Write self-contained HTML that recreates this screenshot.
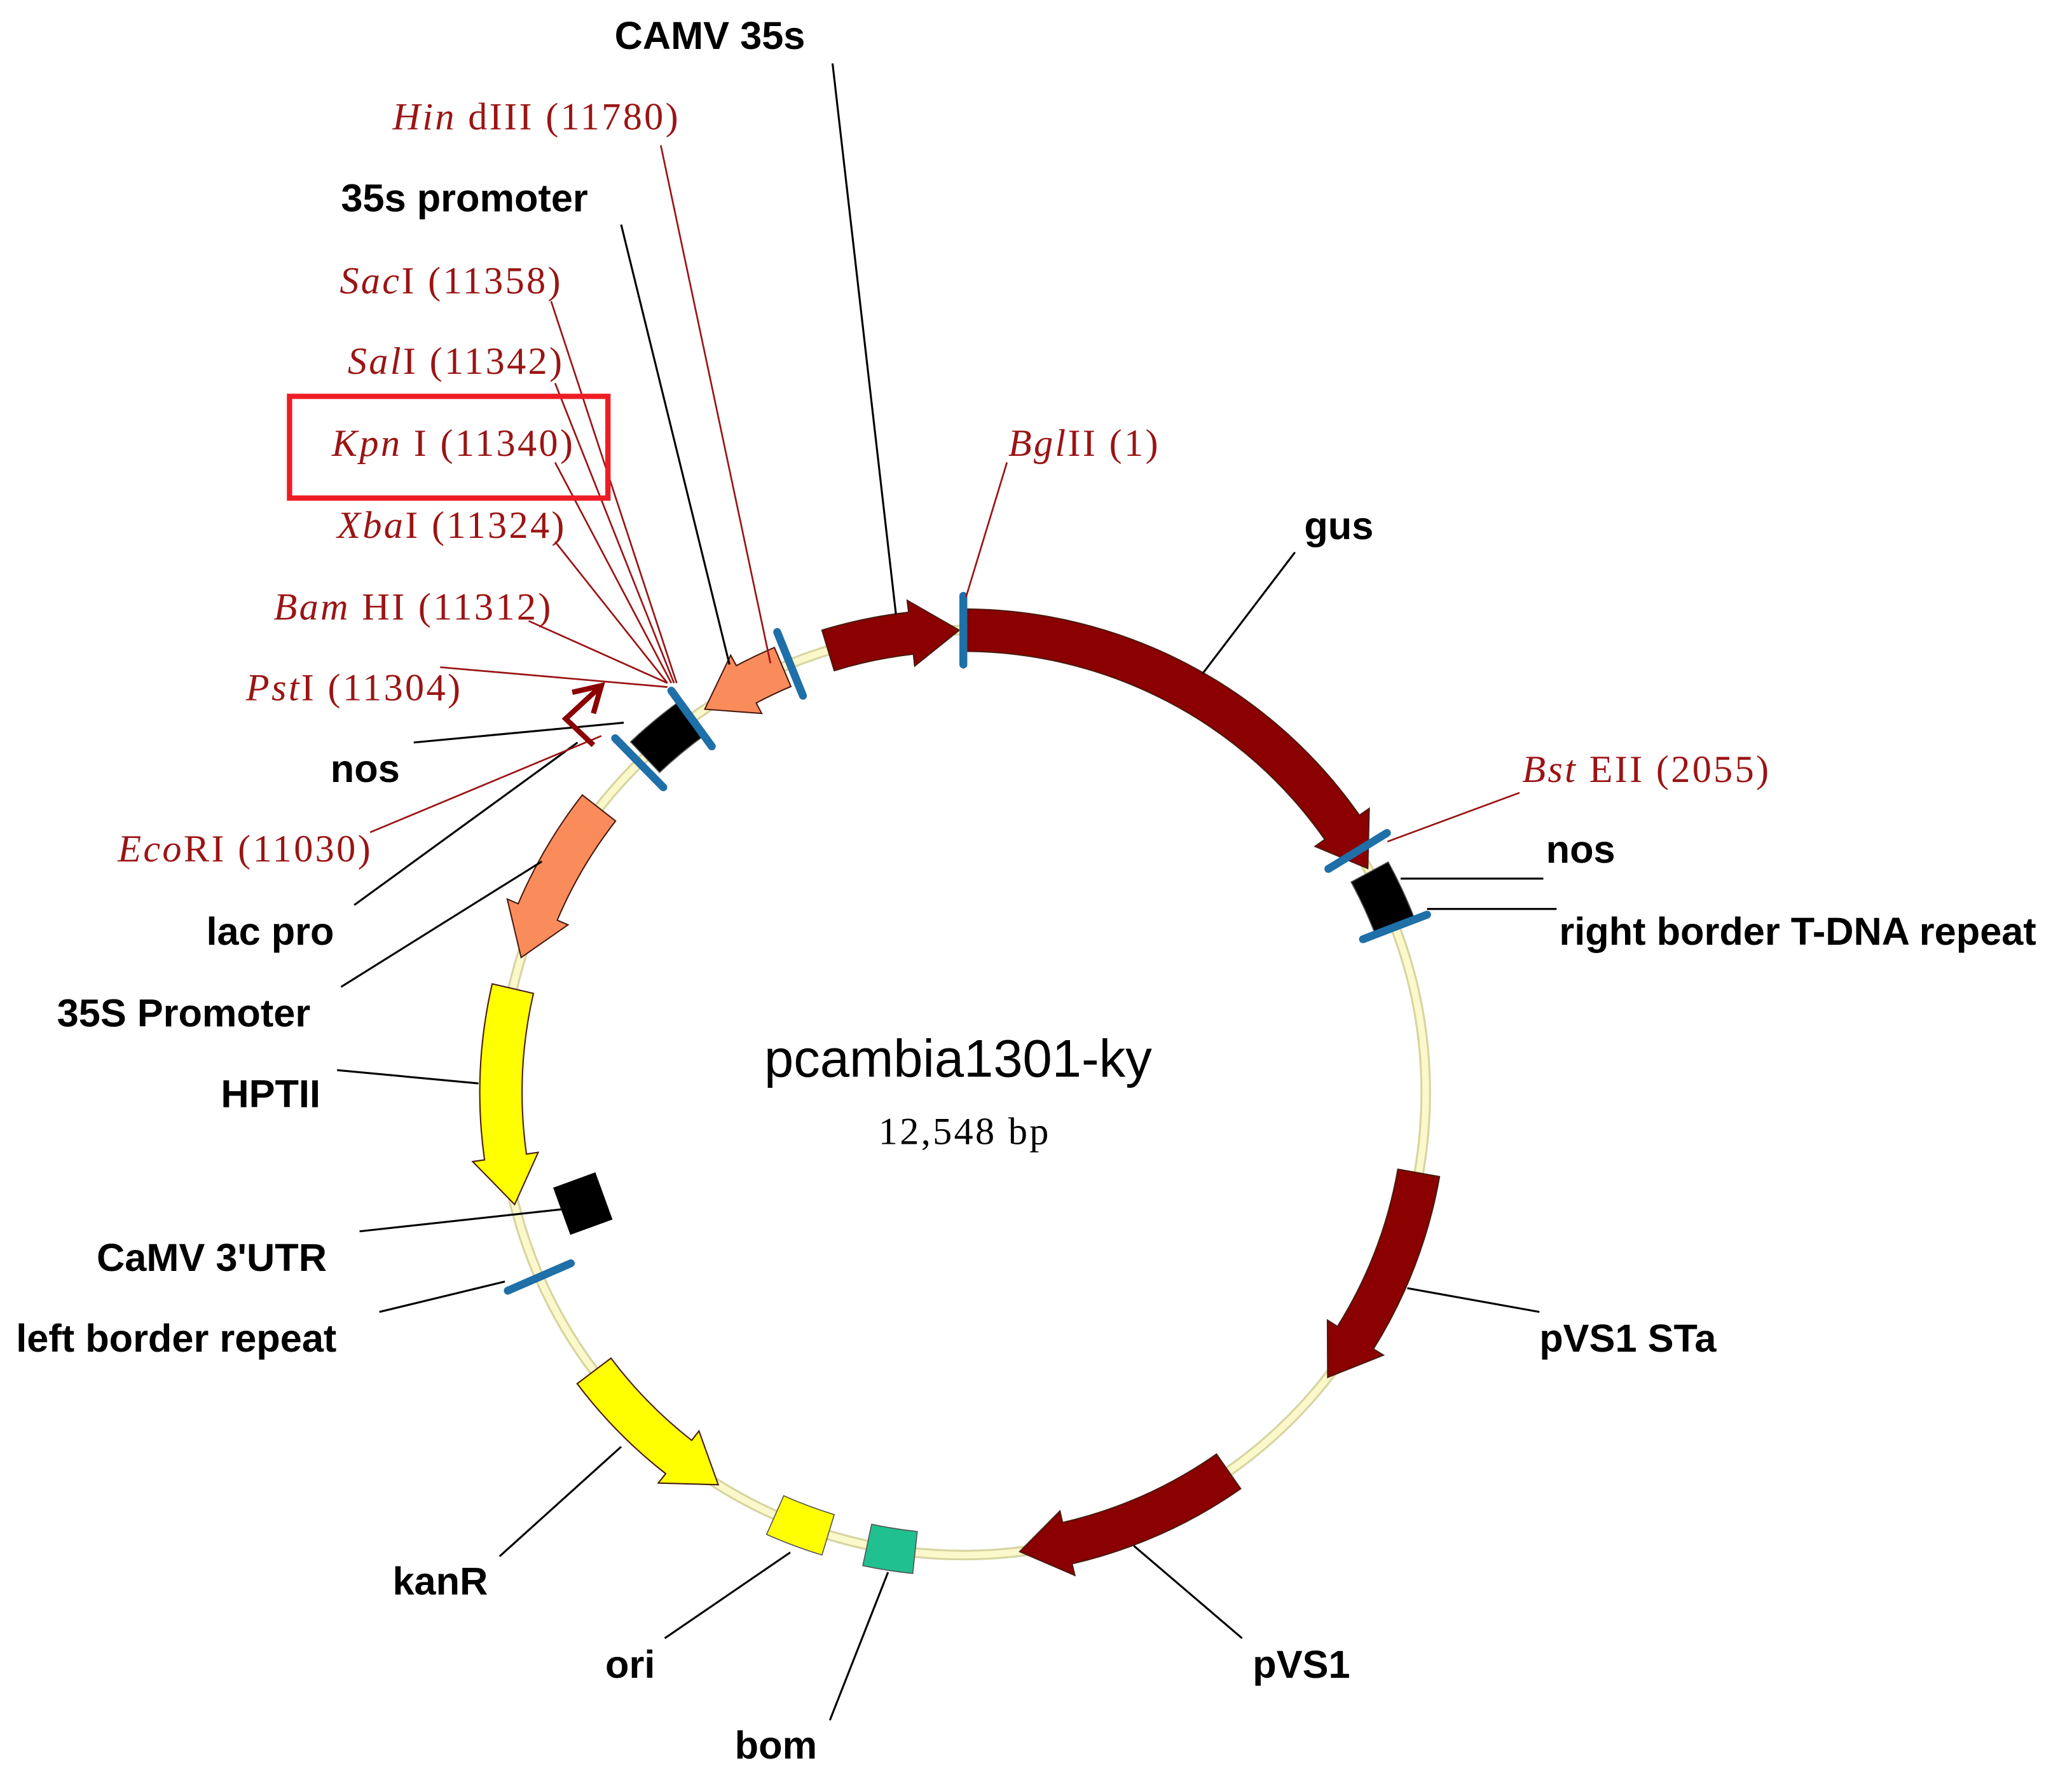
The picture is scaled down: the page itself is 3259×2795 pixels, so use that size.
<!DOCTYPE html>
<html><head><meta charset="utf-8"><style>
html,body{margin:0;padding:0;background:#fff;}
svg{display:block;}
.b{font-family:"Liberation Sans",Arial,sans-serif;font-size:29.5px;font-weight:bold;fill:#000;}
.r{font-family:"Liberation Serif",serif;font-size:29px;letter-spacing:1.6px;fill:#9b1414;}
.r tspan.i{font-style:italic;}
</style></head><body>
<svg id="s" width="3259" height="2795" viewBox="0 0 1568 1345" xmlns="http://www.w3.org/2000/svg">
<rect width="1568" height="1345" fill="#fff"/>
<circle cx="729" cy="827" r="350" fill="none" stroke="#d8d4a0" stroke-width="8"/>
<circle cx="729" cy="827" r="350" fill="none" stroke="#fbf8cc" stroke-width="5"/>
<g id="feat"></g>
<rect x="424" y="892" width="34" height="38" fill="#000" transform="rotate(-20 441 911)"/>
<g stroke="#000" stroke-width="1.5" fill="none">
<line x1="630" y1="48" x2="678" y2="465"/>
<line x1="470" y1="170" x2="552" y2="503"/>
<line x1="313" y1="562" x2="472" y2="547"/>
<line x1="268" y1="685" x2="437" y2="562"/>
<line x1="258" y1="747" x2="410" y2="652"/>
<line x1="255" y1="810" x2="362" y2="820"/>
<line x1="272" y1="932" x2="428" y2="915"/>
<line x1="287" y1="993" x2="382" y2="970"/>
<line x1="378" y1="1178" x2="470" y2="1095"/>
<line x1="503" y1="1240" x2="598" y2="1175"/>
<line x1="628" y1="1302" x2="672" y2="1190"/>
<line x1="940" y1="1240" x2="858" y2="1170"/>
<line x1="1165" y1="993" x2="1065" y2="975"/>
<line x1="1178" y1="688" x2="1080" y2="688"/>
<line x1="1168" y1="665" x2="1060" y2="665"/>
<line x1="980" y1="418" x2="910" y2="510"/>
</g>
<g stroke="#9b1414" stroke-width="1.3" fill="none">
<line x1="500" y1="110" x2="583" y2="502"/>
<line x1="417" y1="228" x2="512" y2="517"/>
<line x1="420" y1="290" x2="510" y2="517"/>
<line x1="420" y1="350" x2="508" y2="517"/>
<line x1="420" y1="410" x2="505" y2="517"/>
<line x1="400" y1="470" x2="505" y2="517"/>
<line x1="333" y1="505" x2="505" y2="520"/>
<line x1="280" y1="630" x2="455" y2="557"/>
<line x1="1150" y1="600" x2="1050" y2="637"/>
<line x1="762" y1="350" x2="731" y2="452"/>
</g>
<g stroke="#8b0000" stroke-width="4" fill="none">
<polyline points="449,564 428,544 455,519"/>
<polyline points="433,524 455,519 449,540"/>
</g>
<rect x="219" y="300" width="241" height="77" fill="none" stroke="#ee1c24" stroke-width="4"/>
<text class="b" x="465" y="37">CAMV 35s</text>
<text class="r" x="297" y="98"><tspan class="i">Hin</tspan> dIII (11780)</text>
<text class="b" x="258" y="160">35s promoter</text>
<text class="r" x="257" y="222"><tspan class="i">Sac</tspan>I (11358)</text>
<text class="r" x="263" y="283"><tspan class="i">Sal</tspan>I (11342)</text>
<text class="r" x="251" y="345"><tspan class="i">Kpn</tspan> I (11340)</text>
<text class="r" x="255" y="407"><tspan class="i">Xba</tspan>I (11324)</text>
<text class="r" x="207" y="469"><tspan class="i">Bam</tspan> HI (11312)</text>
<text class="r" x="186" y="530"><tspan class="i">Pst</tspan>I (11304)</text>
<text class="b" x="250" y="592">nos</text>
<text class="r" x="89" y="652"><tspan class="i">Eco</tspan>RI (11030)</text>
<text class="b" x="156" y="715">lac pro</text>
<text class="b" x="43" y="777">35S Promoter</text>
<text class="b" x="167" y="838">HPTII</text>
<text class="b" x="73" y="962">CaMV 3'UTR</text>
<text class="b" x="12" y="1023">left border repeat</text>
<text class="b" x="297" y="1207">kanR</text>
<text class="b" x="458" y="1270">ori</text>
<text class="b" x="556" y="1331">bom</text>
<text class="b" x="948" y="1270">pVS1</text>
<text class="b" x="1165" y="1023">pVS1 STa</text>
<text class="b" x="1180" y="715">right border T-DNA repeat</text>
<text class="b" x="1170" y="653">nos</text>
<text class="r" x="1152" y="592"><tspan class="i">Bst</tspan> EII (2055)</text>
<text class="b" x="987" y="408">gus</text>
<text class="r" x="763" y="345"><tspan class="i">Bgl</tspan>II (1)</text>
<text x="725" y="815" text-anchor="middle" style="font-family:'Liberation Sans',sans-serif;font-size:40px">pcambia1301-ky</text>
<text class="r" x="730" y="866" text-anchor="middle" style="fill:#000">12,548 bp</text>
</svg>
<script>
(function(){
var cx=729,cy=827,R=350,W=32,HW=50,HL=6;
function P(a,r){var t=a*Math.PI/180;return (cx+r*Math.sin(t)).toFixed(1)+","+(cy-r*Math.cos(t)).toFixed(1);}
var g=document.getElementById("feat"),ns="http://www.w3.org/2000/svg";
function add(d,fill,stroke,sw){var p=document.createElementNS(ns,"path");p.setAttribute("d",d);p.setAttribute("fill",fill);p.setAttribute("stroke",stroke||"#000");p.setAttribute("stroke-width",sw||1);g.appendChild(p);}
function arrow(a1,a2,fill){
 var dir=a2>a1?1:-1,b=a2-dir*HL,sw=dir>0?1:0,sw2=dir>0?0:1;
 var ro=R+W/2,ri=R-W/2;
 var d="M"+P(a1,ro)+" A"+ro+","+ro+" 0 0 "+sw+" "+P(b,ro)+" L"+P(b,R+HW/2)+" L"+P(a2,R)+" L"+P(b,R-HW/2)+" L"+P(b,ri)+" A"+ri+","+ri+" 0 0 "+sw2+" "+P(a1,ri)+" Z";
 add(d,fill,"#4a1a10",1);
}
function box(a1,a2,fill){
 var ro=R+W/2,ri=R-W/2;
 add("M"+P(a1,ro)+" A"+ro+","+ro+" 0 0 1 "+P(a2,ro)+" L"+P(a2,ri)+" A"+ri+","+ri+" 0 0 0 "+P(a1,ri)+" Z",fill,"#555",0.8);
}
function tick(a){var l=document.createElementNS(ns,"line");var p1=P(a,R-26).split(","),p2=P(a,R+26).split(",");
 l.setAttribute("x1",p1[0]);l.setAttribute("y1",p1[1]);l.setAttribute("x2",p2[0]);l.setAttribute("y2",p2[1]);
 l.setAttribute("stroke","#1f6fa8");l.setAttribute("stroke-width",6);l.setAttribute("stroke-linecap","round");g.appendChild(l);}
var DR="#8b0000",SA="#fa8c5c",YE="#ffff00";
arrow(343,359.5,DR);
arrow(0.5,61,DR);
arrow(100,128,DR);
arrow(145,173,DR);
box(186,192,"#20c090");
box(197,204,YE);
arrow(233,212,YE);
arrow(283,256,YE);
arrow(308,287,SA);
arrow(337,326,SA);
box(316.5,324,"#000");
box(61.5,69,"#000");
[0,58.5,69,246.5,315.5,324,338].forEach(tick);
})();
</script>
</body></html>
